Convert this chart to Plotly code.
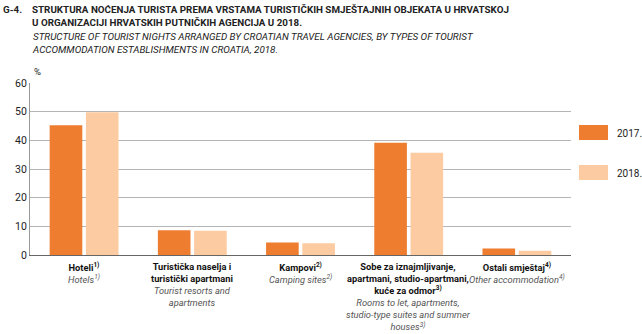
import plotly.graph_objects as go

categories_hr = ["Hoteli<sup>1)</sup>", "Turistička naselja i<br>turistički apartmani", "Kampovi<sup>2)</sup>",
                 "Sobe za iznajmljivanje,<br>apartmani, studio-apartmani,<br>kuće za odmor<sup>3)</sup>",
                 "Ostali smještaj<sup>4)</sup>"]
categories_en = ["Hotels<sup>1)</sup>", "Tourist resorts and<br>apartments", "Camping sites<sup>2)</sup>",
                 "Rooms to let, apartments,<br>studio-type suites and summer<br>houses<sup>3)</sup>",
                 "Other accommodation<sup>4)</sup>"]
cats = ["c1", "c2", "c3", "c4", "c5"]
values_2017 = [45.3, 8.6, 4.4, 39.2, 2.3]
values_2018 = [49.8, 8.5, 4.1, 35.7, 1.5]
series_names = ["2017.", "2018."]
colors = ["#EE7D2F", "#FCCBA2"]
yticks = [0, 10, 20, 30, 40, 50, 60]

FONT = "Roboto, Liberation Sans, sans-serif"

fig = go.Figure()
for name, vals, col in zip(series_names, [values_2017, values_2018], colors):
    fig.add_trace(go.Bar(x=cats, y=vals, name=name, marker_color=col, marker_line_width=0,
                         showlegend=False))

fig.update_layout(
    width=642, height=334,
    margin=dict(l=30, r=71, t=83, b=79),
    paper_bgcolor="white", plot_bgcolor="white",
    barmode="group", bargap=0.33, bargroupgap=0.1,
    font=dict(family=FONT, size=10, color="#222"),
    xaxis=dict(showticklabels=False, showline=True, linecolor="#666", linewidth=1,
               ticks="", range=[-0.5, 4.5]),
    yaxis=dict(range=[0, 60], tickvals=yticks, showgrid=True, gridcolor="#B5B5B5",
               gridwidth=1, showline=True, linecolor="#999", linewidth=1, ticks="",
               tickfont=dict(size=10.5, color="#222"), zeroline=False),
)

# category labels
for i, (hr, en) in enumerate(zip(categories_hr, categories_en)):
    txt = "<b>" + hr + "</b><br><i><span style='color:#555'>" + en + "</span></i>"
    fig.add_annotation(x=cats[i], y=0, xref="x", yref="paper", yshift=-4,
                       text=txt, showarrow=False, yanchor="top", xanchor="center",
                       font=dict(size=9.3, family=FONT, color="#111"), align="center")

# y-unit
fig.add_annotation(x=0, y=1, xref="paper", yref="paper", xshift=2, yshift=4, text="%",
                   showarrow=False, xanchor="left", yanchor="bottom", font=dict(size=9.5))

# legend (custom)
for j, (name, col) in enumerate(zip(series_names, colors)):
    y0 = 125 + j * 40
    fig.add_shape(type="rect", xref="paper", yref="paper",
                  x0=(579 - 30) / 541, x1=(608 - 30) / 541,
                  y0=(255 - y0) / 172, y1=(255 - (y0 + 15)) / 172,
                  fillcolor=col, line_width=0)
    fig.add_annotation(xref="paper", yref="paper", x=(615 - 30) / 541, y=(255 - (y0 + 8)) / 172,
                       text=name, showarrow=False, xanchor="left", yanchor="middle",
                       font=dict(size=10))

# titles
fig.add_annotation(xref="paper", yref="paper", x=-29 / 541, y=(255 - 2) / 172, text="<b>G-4.</b>",
                   showarrow=False, xanchor="left", yanchor="top", font=dict(size=9.8))
fig.add_annotation(xref="paper", yref="paper", x=0, y=(255 - 2) / 172,
                   text="<b>STRUKTURA NOĆENJA TURISTA PREMA VRSTAMA TURISTIČKIH SMJEŠTAJNIH OBJEKATA U HRVATSKOJ<br>"
                        "U ORGANIZACIJI HRVATSKIH PUTNIČKIH AGENCIJA U 2018.</b>",
                   showarrow=False, xanchor="left", yanchor="top", align="left", font=dict(size=9.8))
fig.add_annotation(xref="paper", yref="paper", x=0, y=(255 - 29) / 172,
                   text="<i>STRUCTURE OF TOURIST NIGHTS ARRANGED BY CROATIAN TRAVEL AGENCIES, BY TYPES OF TOURIST<br>"
                        "ACCOMMODATION ESTABLISHMENTS IN CROATIA, 2018.</i>",
                   showarrow=False, xanchor="left", yanchor="top", align="left", font=dict(size=9.8))

fig.write_html("out.html")
